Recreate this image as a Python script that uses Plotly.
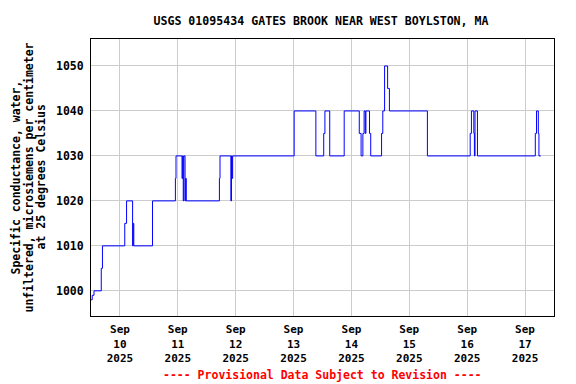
import plotly.graph_objects as go

# Change points of the step series (value holds until next time)
times = [
    "2025-09-09 12:00", "2025-09-09 12:30", "2025-09-09 13:15", "2025-09-09 16:15", "2025-09-09 16:45",
    "2025-09-10 02:00", "2025-09-10 02:45", "2025-09-10 05:15", "2025-09-10 05:30", "2025-09-10 05:45",
    "2025-09-10 13:30", "2025-09-10 23:00", "2025-09-10 23:15",
    "2025-09-11 01:45", "2025-09-11 02:00", "2025-09-11 02:15", "2025-09-11 02:30",
    "2025-09-11 03:00", "2025-09-11 03:15", "2025-09-11 03:30",
    "2025-09-11 17:15", "2025-09-11 17:30",
    "2025-09-11 22:00", "2025-09-11 22:15", "2025-09-11 22:30", "2025-09-11 22:45",
    "2025-09-13 00:15", "2025-09-13 09:15", "2025-09-13 12:30", "2025-09-13 13:00",
    "2025-09-13 15:00", "2025-09-13 21:00",
    "2025-09-14 03:15", "2025-09-14 04:00", "2025-09-14 04:45", "2025-09-14 05:15",
    "2025-09-14 05:45", "2025-09-14 06:00", "2025-09-14 07:30", "2025-09-14 07:45",
    "2025-09-14 08:00",
    "2025-09-14 12:30", "2025-09-14 13:00", "2025-09-14 13:45", "2025-09-14 15:00", "2025-09-14 15:45",
    "2025-09-15 07:30",
    "2025-09-16 01:15", "2025-09-16 01:45", "2025-09-16 02:45", "2025-09-16 03:00", "2025-09-16 03:15",
    "2025-09-16 04:15",
    "2025-09-17 04:15", "2025-09-17 04:45", "2025-09-17 05:30", "2025-09-17 05:45", "2025-09-17 06:30",
]
values = [
    998, 999, 1000, 1005, 1010,
    1015, 1020, 1010, 1015, 1010,
    1020, 1025, 1030,
    1025, 1030, 1020, 1030,
    1020, 1025, 1020,
    1025, 1030,
    1020, 1030, 1025, 1030,
    1040, 1030, 1035, 1040,
    1030, 1040,
    1035, 1030, 1035, 1040,
    1035, 1040, 1035, 1035,
    1030,
    1035, 1040, 1050, 1045, 1040,
    1030,
    1035, 1040, 1035, 1030, 1040,
    1030,
    1035, 1040, 1035, 1030, 1030,
]

tick_dates = ["2025-09-10", "2025-09-11", "2025-09-12", "2025-09-13",
              "2025-09-14", "2025-09-15", "2025-09-16", "2025-09-17"]
tick_text = ["Sep<br>10<br>2025", "Sep<br>11<br>2025", "Sep<br>12<br>2025", "Sep<br>13<br>2025",
             "Sep<br>14<br>2025", "Sep<br>15<br>2025", "Sep<br>16<br>2025", "Sep<br>17<br>2025"]
y_ticks = [1000, 1010, 1020, 1030, 1040, 1050]

title = "USGS 01095434 GATES BROOK NEAR WEST BOYLSTON, MA"
y_title_lines = ["Specific conductance, water,",
                 "unfiltered, microsiemens per centimeter",
                 "at 25 degrees Celsius"]
note = "---- Provisional Data Subject to Revision ----"

FONT = "DejaVu Sans Mono"
L, R, T, B = 91, 22, 39, 68
PW = 576 - L - R

fig = go.Figure()
fig.add_trace(go.Scatter(x=times, y=values, mode="lines", line=dict(color="#0000ff", width=1, shape="hv"),
                         showlegend=False, hoverinfo="x+y"))

annotations = []
for i, (line, px) in enumerate(zip(y_title_lines, [15, 28, 40])):
    annotations.append(dict(text=line, xref="paper", yref="paper", x=(px - L) / PW, y=0.5,
                            xanchor="center", yanchor="middle", textangle=-90, showarrow=False,
                            font=dict(family=FONT, size=11.5, weight="bold")))
annotations.append(dict(text=note, xref="paper", yref="paper", x=0.5, y=-0.214, xanchor="center",
                        yanchor="middle", showarrow=False,
                        font=dict(family=FONT, size=11.5, color="red", weight="bold")))

fig.update_layout(
    width=576, height=384,
    margin=dict(l=L, r=R, t=T, b=B),
    paper_bgcolor="white", plot_bgcolor="white",
    font=dict(family=FONT, size=11, color="black", weight="bold"),
    title=dict(text=title, x=321 / 576, xanchor="center", y=0.945, yanchor="middle",
               font=dict(family=FONT, size=11.6, color="black", weight="bold")),
    xaxis=dict(range=["2025-09-09 12:00", "2025-09-17 12:00"], tickvals=tick_dates, ticktext=tick_text,
               showgrid=True, gridcolor="#cccccc", gridwidth=1, showline=True, linecolor="black",
               linewidth=1, mirror=True, ticks="", zeroline=False, ticklabelstandoff=3,
               tickfont=dict(family=FONT, size=11, weight="bold")),
    yaxis=dict(range=[994.4, 1056], tickvals=y_ticks, showgrid=True, gridcolor="#cccccc", gridwidth=1,
               showline=True, linecolor="black", linewidth=1, mirror=True, ticks="", zeroline=False,
               ticklabelstandoff=4, tickfont=dict(family=FONT, size=11.5, weight="bold")),
    annotations=annotations,
)

fig.write_html("out.html", config={"displayModeBar": False},
               post_script="document.body.style.margin='0';document.body.style.overflow='hidden';")
